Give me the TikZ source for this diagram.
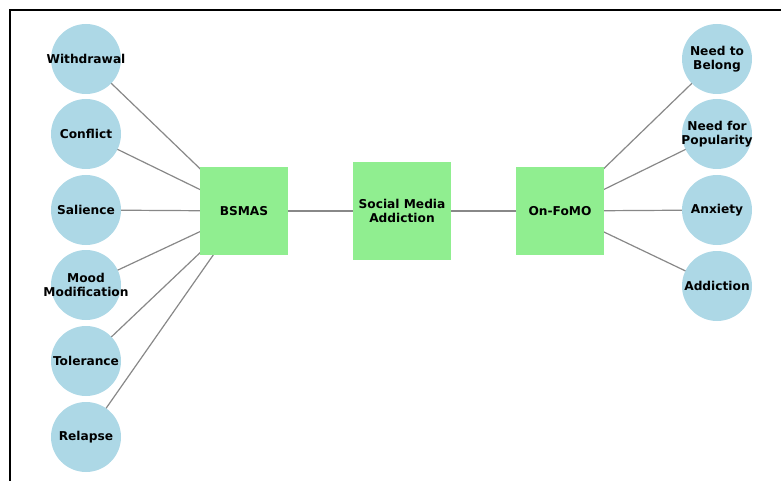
\documentclass[tikz,border=0pt]{standalone}
\usepackage{fontspec}
\setmainfont{DejaVu Sans}
\usetikzlibrary{backgrounds}
\definecolor{itemblue}{RGB}{173,216,230}
\definecolor{scalegreen}{RGB}{144,238,144}
\definecolor{linkgray}{RGB}{136,136,136}

\begin{document}
\begin{tikzpicture}[x=1pt, y=-1pt,
  itemtext/.style={align=center, inner sep=0pt,
    font=\bfseries\fontsize{12.2}{13.5}\selectfont},
  item/.style={circle, fill=itemblue, minimum size=70pt, inner sep=0pt,
    label={[itemtext]center:#1}},
  measure/.style={rectangle, fill=scalegreen, minimum size=#1, inner sep=0pt, align=center,
    font=\bfseries\fontsize{12.2}{13.5}\selectfont},
  link/.style={draw=linkgray, line width=1.2pt}]
  \useasboundingbox (0,0) rectangle (781,481);
  \draw[line width=2pt] (10,490) -- (10,10) -- (790,10);

  \node[measure=88pt]  (bsmas) at (244,211) {BSMAS};
  \node[measure=98pt]  (sma)   at (402,211) {Social Media\\Addiction};
  \node[measure=88pt]  (fomo)  at (560,211) {On-FoMO};

  \node[item=Withdrawal]           (withdrawal) at (86,59)  {};
  \node[item=Conflict]             (conflict)   at (86,134) {};
  \node[item=Salience]             (salience)   at (86,210) {};
  \node[item={Mood\\Modification}] (mood)       at (86,285) {};
  \node[item=Tolerance]            (tolerance)  at (86,361) {};
  \node[item=Relapse]              (relapse)    at (86,437) {};

  \node[item={Need to\\Belong}]      (belong)     at (717,59)  {};
  \node[item={Need for\\Popularity}] (popularity) at (717,134) {};
  \node[item=Anxiety]                (anxiety)    at (717,210) {};
  \node[item=Addiction]              (addiction)  at (717,286) {};

  \begin{pgfonlayer}{background}
  \foreach \n in {withdrawal,conflict,salience,mood,tolerance,relapse}
    \draw[link] (\n.center) -- (bsmas.center);
  \foreach \n in {belong,popularity,anxiety,addiction}
    \draw[link] (\n.center) -- (fomo.center);
  \draw[link] (bsmas.center) -- (sma.center);
  \draw[link] (sma.center) -- (fomo.center);
  \end{pgfonlayer}
\end{tikzpicture}
\end{document}
